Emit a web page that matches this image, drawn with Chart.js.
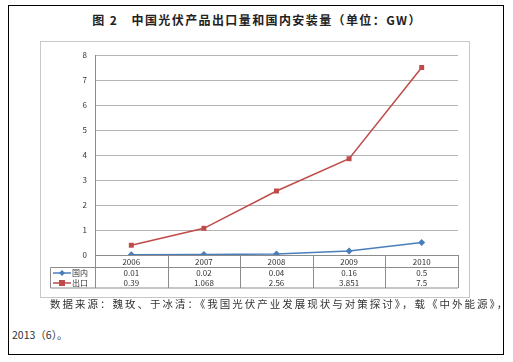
<!DOCTYPE html>
<html>
<head>
<meta charset="utf-8">
<script src="https://cdn.jsdelivr.net/npm/chart.js@4"></script>
<style>
  body { margin:0; background:#fff; font-family:"Noto Sans CJK SC", sans-serif; }
  #page { position:absolute; left:8px; top:5px; width:496px; height:350px; border:1px solid #000; box-sizing:border-box; }
  #title { position:absolute; left:0; top:5px; width:496px; text-align:center; font-size:12px; font-weight:bold; color:#222; letter-spacing:1.4px; }
  #frame { position:absolute; left:40px; top:41px; width:430px; height:257px; border:1px solid #c8c8c8; box-sizing:border-box; }
  #frame canvas { position:absolute; left:0; top:0; }
  .note { position:absolute; font-size:10.5px; color:#333; white-space:nowrap; }
</style>
</head>
<body>
<div id="page">
  <div id="title">图 2　中国光伏产品出口量和国内安装量（单位：GW）</div>
</div>
<div id="frame"><canvas id="pvChart" width="428" height="255"></canvas></div>
<div class="note" style="left:50px; top:296px; letter-spacing:2px;">数据来源：魏玫、于冰清：《我国光伏产业发展现状与对策探讨》，载《中外能源》，</div>
<div class="note" style="left:12px; top:327px;">2013（6）。</div>
<script>
const years = ['2006', '2007', '2008', '2009', '2010'];
const domestic = [0.01, 0.02, 0.04, 0.16, 0.5];
const exportVals = [0.39, 1.068, 2.56, 3.851, 7.5];
const domesticText = ['0.01', '0.02', '0.04', '0.16', '0.5'];
const exportText = ['0.39', '1.068', '2.56', '3.851', '7.5'];
const yTicks = [0, 1, 2, 3, 4, 5, 6, 7, 8];

const blue = '#4a7ebb';
const red = '#be4b48';
const tableFont = '8px "Noto Sans CJK SC", sans-serif';

// data table under the x axis, aligned with the category scale
const dataTable = {
    id: 'dataTable',
    afterDraw(chart) {
        const ctx = chart.ctx;
        const xs = chart.scales.x;
        const n = years.length;
        const w = xs.width / n;
        const top = xs.top;
        const row1 = top + 12.5;
        const bottom = top + 33;
        const left = 9.5;
        ctx.save();
        ctx.strokeStyle = '#8c8c8c';
        ctx.lineWidth = 1;
        ctx.beginPath();
        for (let i = 0; i <= n; i++) {
            const x = Math.round(xs.left + i * w) + 0.5;
            ctx.moveTo(x, top); ctx.lineTo(x, bottom);
        }
        ctx.moveTo(left, row1); ctx.lineTo(xs.right, row1);
        ctx.moveTo(left, bottom); ctx.lineTo(xs.right, bottom);
        ctx.moveTo(left, row1); ctx.lineTo(left, bottom);
        ctx.stroke();

        ctx.font = tableFont;
        ctx.fillStyle = '#333';
        ctx.textAlign = 'center';
        ctx.textBaseline = 'middle';
        years.forEach((y, i) => {
            const cx = xs.getPixelForValue(i);
            ctx.fillText(y, cx, top + 6.5);
            ctx.fillText(domesticText[i], cx, row1 + 5.5);
            ctx.fillText(exportText[i], cx, row1 + 15.5);
        });

        // legend keys
        const r1 = row1 + 5.5, r2 = row1 + 15.5;
        ctx.lineWidth = 1.5;
        ctx.strokeStyle = blue;
        ctx.beginPath(); ctx.moveTo(12, r1); ctx.lineTo(30, r1); ctx.stroke();
        ctx.fillStyle = blue;
        ctx.beginPath(); ctx.moveTo(21, r1 - 3); ctx.lineTo(24, r1); ctx.lineTo(21, r1 + 3); ctx.lineTo(18, r1); ctx.closePath(); ctx.fill();
        ctx.strokeStyle = red;
        ctx.beginPath(); ctx.moveTo(12, r2); ctx.lineTo(30, r2); ctx.stroke();
        ctx.fillStyle = red;
        ctx.fillRect(18, r2 - 3, 6, 6);
        ctx.fillStyle = '#333';
        ctx.textAlign = 'left';
        ctx.fillText('国内', 31, r1);
        ctx.fillText('出口', 31, r2);
        ctx.restore();
    }
};

new Chart(document.getElementById('pvChart'), {
    type: 'line',
    data: {
        labels: years,
        datasets: [
            {
                label: '国内', data: domestic,
                borderColor: blue, backgroundColor: blue, borderWidth: 1.5,
                pointStyle: 'rectRot', pointRadius: 3.5, pointBorderWidth: 0, tension: 0
            },
            {
                label: '出口', data: exportVals,
                borderColor: red, backgroundColor: red, borderWidth: 1.5,
                pointStyle: 'rect', pointRadius: 3.5, pointBorderWidth: 0, tension: 0
            }
        ]
    },
    options: {
        responsive: false,
        animation: false,
        layout: { padding: { top: 13, right: 11, left: 0, bottom: 0 } },
        plugins: { legend: { display: false }, tooltip: { enabled: false } },
        scales: {
            x: {
                offset: true,
                grid: { display: false },
                border: { display: true, color: '#8c8c8c' },
                ticks: { display: false },
                afterFit: s => { s.height = 42; }
            },
            y: {
                min: 0, max: 8,
                afterBuildTicks: s => { s.ticks = yTicks.map(v => ({ value: v })); },
                afterFit: s => { s.width = 54; },
                grid: { color: '#b4b4b4', drawTicks: false },
                border: { display: true, color: '#8c8c8c' },
                ticks: { color: '#333', padding: 8, font: { size: 8, family: '"Noto Sans CJK SC", sans-serif' } }
            }
        }
    },
    plugins: [dataTable]
});
</script>
</body>
</html>
